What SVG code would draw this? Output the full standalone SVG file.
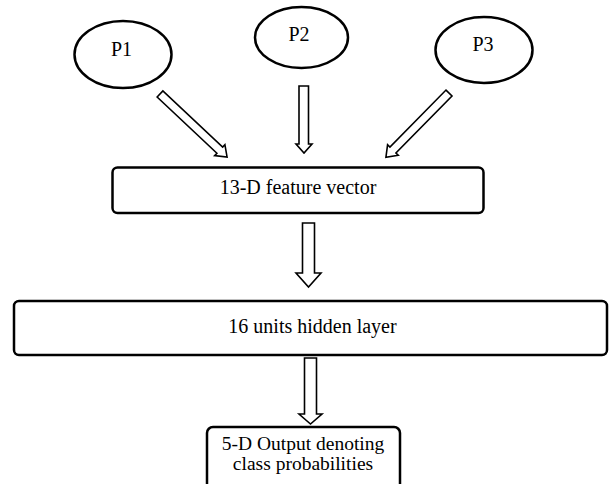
<svg xmlns="http://www.w3.org/2000/svg" width="609" height="484" viewBox="0 0 609 484">
  <style>
    .shape { fill: #ffffff; stroke: #000000; stroke-width: 2.5; }
    .arrow { fill: #ffffff; stroke: #000000; stroke-width: 1.6; stroke-linejoin: miter; }
    .label { font-family: "Liberation Serif", "Times New Roman", serif; font-size: 20px; fill: #000000; text-anchor: middle; }
    .small { font-size: 19.5px; }
  </style>
  <rect width="609" height="484" fill="#ffffff"/>

  <!-- block arrows -->
  <g id="connectors">
    <path class="arrow" transform="translate(160,94) rotate(-46.8)" d="M -4.2,0 H 4.2 V 82 H 7.5 L 0,92 L -7.5,82 H -4.2 Z"/>
    <path class="arrow" d="M 299,86 H 308.5 V 144 H 312 L 304,153 L 296,144 H 299 Z"/>
    <path class="arrow" transform="translate(449,93) rotate(44.5)" d="M -4.2,0 H 4.2 V 80 H 7.5 L 0,90 L -7.5,80 H -4.2 Z"/>
    <path class="arrow" d="M 302.5,223 H 314.5 V 273 H 321 L 308.5,287 L 296,273 H 302.5 Z"/>
    <path class="arrow" d="M 304.5,358 H 316.5 V 414 H 322 L 310.5,424 L 299,414 H 304.5 Z"/>
  </g>

  <g id="p1">
    <ellipse class="shape" cx="123" cy="54.5" rx="48.5" ry="33.5"/>
    <text class="label" x="121.5" y="56">P1</text>
  </g>
  <g id="p2">
    <ellipse class="shape" cx="301.5" cy="37.5" rx="46.5" ry="30.5"/>
    <text class="label" x="299" y="41">P2</text>
  </g>
  <g id="p3">
    <ellipse class="shape" cx="484" cy="50" rx="48.5" ry="33"/>
    <text class="label" x="483" y="51">P3</text>
  </g>

  <g id="feature-vector">
    <rect class="shape" x="112.5" y="167.5" width="371" height="45.5" rx="5"/>
    <text class="label" x="298" y="194">13-D feature vector</text>
  </g>

  <g id="hidden-layer">
    <rect class="shape" x="14" y="301" width="593" height="54" rx="5"/>
    <text class="label" x="312.5" y="333">16 units hidden layer</text>
  </g>

  <g id="output">
    <rect class="shape" x="207" y="427" width="193" height="64" rx="6"/>
    <text class="label small" x="303" y="450">5-D Output denoting</text>
    <text class="label small" x="303" y="469.5">class probabilities</text>
  </g>
</svg>
